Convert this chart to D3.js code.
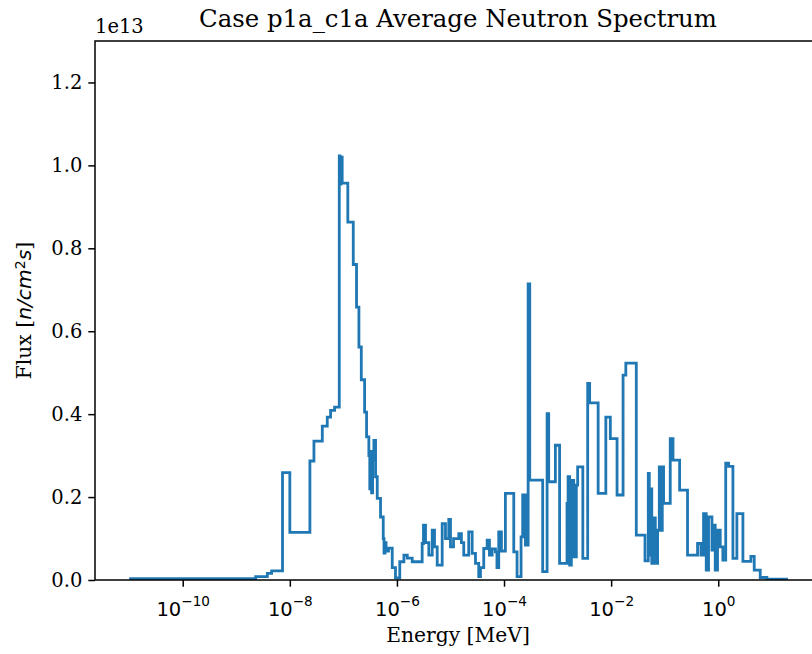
<!DOCTYPE html>
<html>
<head>
<meta charset="utf-8">
<script src="https://cdn.jsdelivr.net/npm/d3@7"></script>
<style>
  body { margin: 0; background: #fff; }
  text { fill: #000; }
</style>
</head>
<body>
<svg id="chart"></svg>
<script>
// Average neutron spectrum, step plot on a log energy axis
const titleText = 'Case p1a_c1a Average Neutron Spectrum';
const fluxExponent = 13;

// bin edges in MeV (lower edge of each step, last entry closes the final bin)
const energyEdges = [
  1e-11, 2.3e-9, 3.8e-9, 4.57e-9, 7.3e-9, 1.0e-8, 2.37e-8, 2.82e-8, 4.04e-8, 5.0e-8,
  5.77e-8, 6.85e-8, 8.38e-8, 8.7e-8, 9.0e-8, 9.5e-8, 1.21e-7, 1.53e-7, 1.76e-7, 1.95e-7,
  2.16e-7, 2.49e-7, 2.71e-7, 2.99e-7, 3.11e-7, 3.21e-7, 3.36e-7, 3.51e-7, 3.71e-7, 3.99e-7,
  4.29e-7, 4.94e-7, 5.55e-7, 5.74e-7, 6.0e-7, 6.26e-7, 6.97e-7, 8.17e-7, 9.4e-7, 1.13e-6,
  1.35e-6, 1.56e-6, 1.93e-6, 2.96e-6, 3.13e-6, 3.42e-6, 3.94e-6, 4.56e-6, 5.03e-6, 5.65e-6,
  7.0e-6, 8.07e-6, 9.3e-6, 1.0e-5, 1.14e-5, 1.43e-5, 1.6e-5, 1.77e-5, 2.19e-5, 2.54e-5,
  2.93e-5, 3.37e-5, 3.63e-5, 4.18e-5, 4.84e-5, 5.34e-5, 6.0e-5, 6.92e-5, 7.38e-5, 7.96e-5,
  8.94e-5, 1.06e-4, 1.52e-4, 1.75e-4, 2.08e-4, 2.23e-4, 2.51e-4, 2.82e-4, 3.02e-4, 5.27e-4,
  6.37e-4, 6.82e-4, 9.1e-4, 1.09e-3, 1.5e-3, 1.57e-3, 1.68e-3, 1.81e-3, 2.0e-3, 2.24e-3,
  2.37e-3, 2.96e-3, 3.65e-3, 3.97e-3, 5.72e-3, 7.96e-3, 9.66e-3, 1.29e-2, 1.67e-2, 1.88e-2,
  2.95e-2, 4.29e-2, 4.94e-2, 5.16e-2, 5.38e-2, 5.74e-2, 6.12e-2, 6.68e-2, 7.38e-2, 7.93e-2,
  8.64e-2, 9.02e-2, 9.53e-2, 0.127, 0.133, 0.136, 0.143, 0.19, 0.267, 0.411,
  0.475, 0.532, 0.597, 0.659, 0.763, 0.817, 0.879, 0.97, 1.09, 1.22,
  1.38, 1.56, 1.88, 2.23, 2.89, 4.07, 4.7, 6.08, 8.1, 20
];

// flux in each bin, units of 1e13 n/cm^2 s
const fluxValues = [
  0.003, 0.008, 0.016, 0.022, 0.259, 0.115, 0.287, 0.335, 0.371, 0.393,
  0.409, 0.417, 1.023, 0.955, 1.02, 0.957, 0.863, 0.761, 0.658, 0.562,
  0.483, 0.405, 0.345, 0.30, 0.22, 0.31, 0.21, 0.29, 0.337, 0.249,
  0.197, 0.152, 0.10, 0.065, 0.09, 0.07, 0.077, 0.03, 0.005, 0.044,
  0.06, 0.053, 0.044, 0.088, 0.132, 0.09, 0.06, 0.12, 0.08, 0.036,
  0.136, 0.10, 0.146, 0.08, 0.10, 0.112, 0.09, 0.06, 0.116, 0.064,
  0.04, 0.008, 0.03, 0.076, 0.096, 0.06, 0.075, 0.068, 0.03, 0.116,
  0.07, 0.209, 0.068, 0.008, 0.104, 0.205, 0.084, 0.714, 0.241, 0.02,
  0.401, 0.237, 0.325, 0.04, 0.185, 0.249, 0.036, 0.24, 0.056, 0.229,
  0.273, 0.052, 0.474, 0.427, 0.209, 0.393, 0.341, 0.205, 0.494, 0.523,
  0.108, 0.046, 0.257, 0.06, 0.22, 0.04, 0.15, 0.04, 0.12, 0.273,
  0.12, 0.273, 0.185, 0.341, 0.29, 0.341, 0.289, 0.217, 0.06, 0.088,
  0.06, 0.16, 0.024, 0.152, 0.072, 0.132, 0.024, 0.12, 0.08, 0.048,
  0.282, 0.274, 0.052, 0.16, 0.045, 0.057, 0.024, 0.006, 0.002
];

const xTickExponents = [-10, -8, -6, -4, -2, 0];
const yTicks = [0, 0.2, 0.4, 0.6, 0.8, 1.0, 1.2];
const xDomain = [2.3e-12, 83];
const yDomain = [0, 1.3];

const W = 812, H = 654;
const margin = { top: 41, right: -9, bottom: 74, left: 95 };
const width = W - margin.left - margin.right;
const height = H - margin.top - margin.bottom;

const serif = '"DejaVu Serif", serif';
const sans = '"DejaVu Sans", sans-serif';

const root = d3.select('#chart').attr('width', W).attr('height', H);
const svg = root.append('g').attr('transform', `translate(${margin.left},${margin.top})`);

const x = d3.scaleLog().domain(xDomain).range([0, width]);
const y = d3.scaleLinear().domain(yDomain).range([height, 0]);

svg.append('clipPath').attr('id', 'plotArea')
  .append('rect').attr('width', width).attr('height', height);

// step line
const points = energyEdges.map((e, i) => ({ e, f: fluxValues[Math.min(i, fluxValues.length - 1)] }));
const line = d3.line()
  .x(d => x(d.e))
  .y(d => y(d.f))
  .curve(d3.curveStepAfter);

svg.append('path')
  .datum(points)
  .attr('clip-path', 'url(#plotArea)')
  .attr('fill', 'none')
  .attr('stroke', '#1f77b4')
  .attr('stroke-width', 2.8)
  .attr('d', line);

// axes
const xAxis = svg.append('g')
  .attr('transform', `translate(0,${height})`)
  .call(d3.axisBottom(x)
    .tickValues(xTickExponents.map(p => Math.pow(10, p)))
    .tickSize(6.7).tickPadding(8)
    .tickFormat(() => ''));

xAxis.selectAll('.tick text').each(function(d, i) {
  const t = d3.select(this)
    .attr('font-family', sans).attr('font-size', 19.5)
    .attr('dy', '1.1em')
    .attr('text-anchor', 'middle');
  t.append('tspan').text('10');
  t.append('tspan')
    .attr('font-size', 13.6)
    .attr('dy', '-0.75em')
    .text(xTickExponents[i] < 0 ? '\u2212' + Math.abs(xTickExponents[i]) : String(xTickExponents[i]));
});

const yAxis = svg.append('g')
  .call(d3.axisLeft(y)
    .tickValues(yTicks)
    .tickSize(6.7).tickPadding(6)
    .tickFormat(d3.format('.1f')));

yAxis.selectAll('.tick text').attr('font-family', serif).attr('font-size', 19.5);

[xAxis, yAxis].forEach(g => {
  g.select('.domain').remove();
  g.selectAll('.tick line').attr('stroke', '#000').attr('stroke-width', 1.5);
});

// spines
svg.append('rect')
  .attr('width', width).attr('height', height)
  .attr('fill', 'none').attr('stroke', '#000').attr('stroke-width', 1.5);

// titles and labels
root.append('text')
  .attr('x', margin.left + width / 2).attr('y', 27)
  .attr('text-anchor', 'middle')
  .attr('font-family', serif).attr('font-size', 24.4)
  .text(titleText);

root.append('text')
  .attr('x', margin.left).attr('y', 33)
  .attr('font-family', serif).attr('font-size', 19.5)
  .text('1e' + fluxExponent);

root.append('text')
  .attr('x', margin.left + width / 2).attr('y', 642)
  .attr('text-anchor', 'middle')
  .attr('font-family', serif).attr('font-size', 20.3)
  .text('Energy [MeV]');

const yl = root.append('text')
  .attr('transform', `translate(31,${margin.top + height / 2}) rotate(-90)`)
  .attr('text-anchor', 'middle')
  .attr('font-family', serif).attr('font-size', 20.3);
yl.append('tspan').text('Flux [');
yl.append('tspan').attr('font-family', sans).attr('font-style', 'italic').text('n/cm');
yl.append('tspan').attr('font-family', sans).attr('font-size', 14.2).attr('dy', '-0.45em').text('2');
yl.append('tspan').attr('font-family', sans).attr('font-style', 'italic').attr('dy', '0.3em').text('s');
yl.append('tspan').attr('dy', '0.02em').text(']');
</script>
</body>
</html>
